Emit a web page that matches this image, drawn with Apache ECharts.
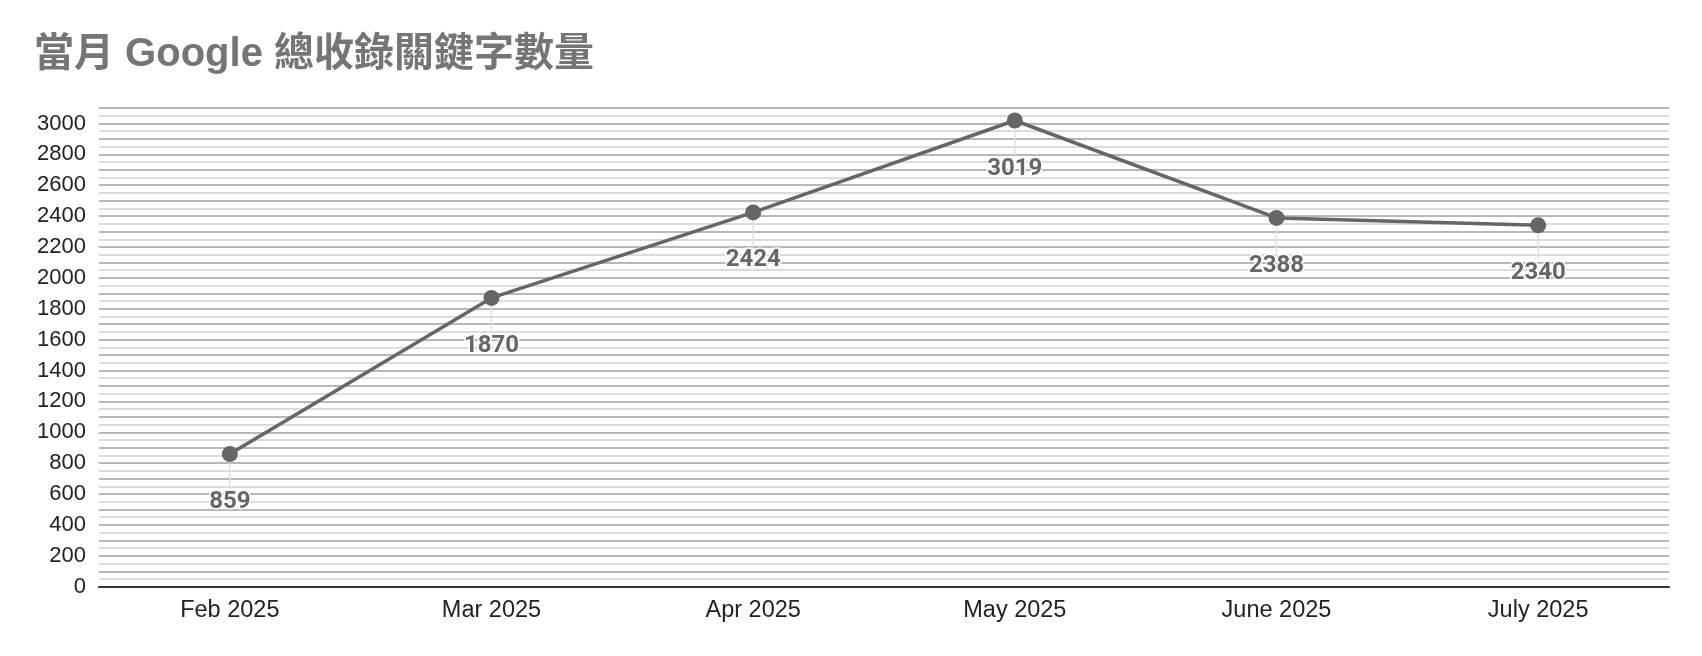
<!DOCTYPE html>
<html><head><meta charset="utf-8">
<script src="https://cdn.jsdelivr.net/npm/echarts@6/dist/echarts.min.js"></script>
<style>html,body{margin:0;padding:0;background:#fff}#c{width:1702px;height:656px}</style>
</head><body><div id="c"></div>
<script>
const titleText = '當月 Google 總收錄關鍵字數量';
const categories = ['Feb 2025', 'Mar 2025', 'Apr 2025', 'May 2025', 'June 2025', 'July 2025'];
const keywordCounts = [859, 1870, 2424, 3019, 2388, 2340];
const yMin = 0, yMax = 3100, yGridStep = 50, yLabelStep = 200;

const chart = echarts.init(document.getElementById('c'));
chart.setOption({
  backgroundColor: '#fff',
  animation: false,
  title: {
    text: titleText, left: 29, top: 30,
    textStyle: {fontFamily: 'Liberation Sans, Noto Sans CJK TC, sans-serif', fontSize: 40, fontWeight: 'bold', color: '#757575'}
  },
  grid: {left: 99, right: 33, top: 108, bottom: 69.3, containLabel: false},
  xAxis: {
    type: 'category', data: categories, boundaryGap: true,
    axisLine: {show: true, lineStyle: {color: '#333', width: 2}},
    axisTick: {show: false},
    axisLabel: {color: '#222', fontSize: 23.5, fontFamily: 'Liberation Sans, Arial, sans-serif', margin: 12}
  },
  yAxis: {
    type: 'value', min: yMin, max: yMax, interval: yGridStep,
    axisLine: {show: false}, axisTick: {show: false},
    axisLabel: {
      color: '#222', fontSize: 22, fontFamily: 'Liberation Sans, Arial, sans-serif', margin: 13,
      formatter: v => (v % yLabelStep === 0 && v <= 3000) ? String(v) : ''
    },
    splitLine: {show: true, lineStyle: {color: ['#b8b8b8', '#dcdcdc'], width: 2}}
  },
  series: [{
    type: 'line', data: keywordCounts,
    symbol: 'circle', symbolSize: 16,
    lineStyle: {color: '#666', width: 3.5},
    itemStyle: {color: '#666'},
    label: {
      show: true, position: 'bottom', distance: 4,
      color: '#666', fontSize: 24, fontWeight: 'bold', fontFamily: 'Roboto, Liberation Sans, sans-serif',
      textBorderColor: '#fff', textBorderWidth: 3
    },
    labelLayout: {dy: 24},
    labelLine: {show: true, lineStyle: {color: '#e0e0e0', width: 1.5}}
  }]
});
</script></body></html>
